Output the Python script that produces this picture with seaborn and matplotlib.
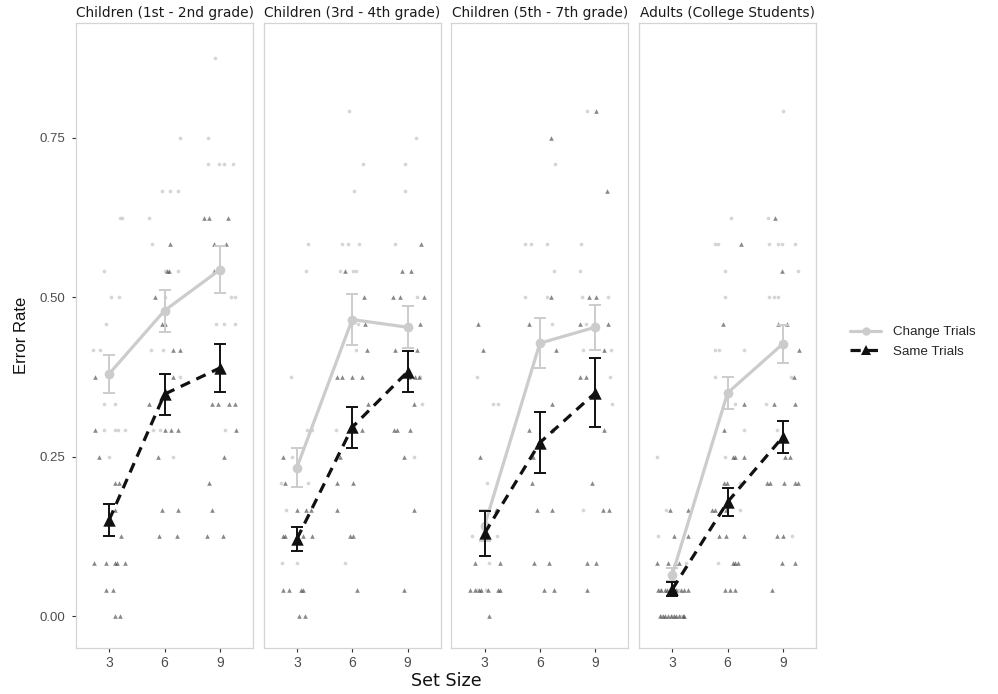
import numpy as np
import pandas as pd
import matplotlib
matplotlib.use("Agg")
import matplotlib.pyplot as plt
from matplotlib.lines import Line2D
import seaborn as sns

# ---------------- data ----------------
PANELS = ["Children (1st - 2nd grade)", "Children (3rd - 4th grade)",
          "Children (5th - 7th grade)", "Adults (College Students)"]
SET_SIZES = [3, 6, 9]
N_TRIALS = 24  # error rates are multiples of 1/24

# individual participants: error counts (of 24) per set size [3, 6, 9], with horizontal jitter (category units)
p1_change_err = [[6, 7, 7, 7, 7, 8, 8, 10, 10, 11, 12, 12, 13, 15, 15],
                 [6, 7, 7, 9, 10, 10, 12, 13, 13, 14, 15, 16, 16, 16, 18],
                 [7, 11, 11, 11, 12, 12, 17, 17, 17, 17, 18, 21]]
p1_change_jit = [[-0.01, -0.10, 0.11, 0.16, 0.29, -0.10, 0.10, -0.30, -0.16, -0.05, 0.04, 0.17, -0.10, 0.19, 0.23],
                 [0.16, -0.20, -0.08, 0.28, -0.24, -0.02, 0.01, 0.00, 0.24, -0.23, -0.28, -0.04, 0.10, 0.24, 0.28],
                 [0.10, -0.07, 0.08, 0.27, 0.20, 0.27, -0.22, -0.02, 0.07, 0.23, -0.22, -0.09]]
p1_same_err = [[0, 0, 1, 1, 2, 2, 2, 2, 2, 3, 4, 5, 5, 6, 7, 9],
               [3, 3, 4, 4, 6, 7, 7, 7, 8, 9, 10, 10, 11, 11, 12, 13, 13, 14],
               [3, 3, 4, 5, 6, 7, 8, 8, 8, 8, 13, 14, 14, 15, 15, 15]]
p1_same_jit = [[0.10, 0.19, -0.06, 0.07, -0.28, -0.06, 0.10, 0.14, 0.28, 0.22, 0.11, 0.10, 0.17, -0.19, -0.25, -0.25],
               [-0.10, 0.22, -0.05, 0.25, -0.11, 0.01, 0.11, 0.25, -0.28, 0.16, 0.15, 0.28, -0.04, 0.01, -0.17, 0.04, 0.08, 0.10],
               [-0.23, 0.05, -0.14, -0.19, 0.08, 0.29, -0.14, -0.04, 0.17, 0.27, -0.11, -0.11, 0.11, -0.28, -0.20, 0.14]]

p2_change_err = [[2, 2, 4, 5, 5, 6, 7, 7, 9, 13, 14],
                 [2, 7, 10, 11, 13, 13, 13, 14, 14, 14, 16, 17, 19],
                 [6, 8, 9, 12, 14, 16, 17, 18]]
p2_change_jit = [[-0.27, 0.01, -0.19, -0.28, 0.20, -0.08, 0.19, 0.27, -0.11, 0.17, 0.20],
                 [-0.13, -0.30, 0.07, 0.11, -0.22, 0.02, 0.06, -0.19, -0.08, 0.12, 0.04, 0.19, -0.06],
                 [0.11, 0.27, 0.22, 0.17, -0.22, -0.04, -0.05, 0.15]]
p2_same_err = [[0, 0, 1, 1, 1, 1, 3, 3, 3, 3, 4, 4, 4, 5, 6],
               [1, 3, 3, 4, 5, 5, 6, 7, 8, 9, 9, 9, 9, 10, 11, 12, 13],
               [1, 4, 6, 7, 7, 7, 8, 9, 9, 9, 10, 10, 11, 12, 12, 12, 13, 13, 14]]
p2_same_jit = [[0.04, 0.14, -0.25, -0.14, 0.07, 0.11, -0.25, -0.22, 0.11, 0.27, 0.00, 0.17, 0.25, -0.22, -0.25],
               [0.08, -0.04, 0.02, -0.27, -0.27, 0.02, -0.22, 0.17, 0.29, -0.28, -0.19, 0.00, 0.17, 0.26, 0.24, 0.22, -0.13],
               [-0.07, 0.11, -0.07, -0.25, -0.19, 0.05, 0.11, 0.02, 0.14, 0.20, -0.22, 0.17, 0.23, -0.27, -0.13, 0.30, -0.10, 0.06, 0.24]]

p3_change_err = [[1, 1, 2, 3, 3, 5, 8, 8, 9],
                 [11, 12, 12, 13, 14, 14, 14, 17],
                 [4, 8, 9, 10, 10, 11, 12, 12, 13, 14, 19]]
p3_change_jit = [[-0.14, 0.03, 0.08, -0.22, 0.22, 0.04, 0.16, 0.25, -0.14],
                 [0.21, -0.27, 0.12, 0.26, -0.27, -0.16, 0.12, 0.27],
                 [-0.22, 0.30, 0.26, -0.22, 0.29, -0.17, -0.23, 0.24, -0.28, -0.25, -0.15]]
p3_same_err = [[0, 1, 1, 1, 1, 1, 1, 1, 2, 2, 4, 6, 10, 11],
               [1, 1, 2, 2, 4, 4, 5, 6, 7, 7, 8, 10, 11, 12, 18],
               [1, 2, 2, 4, 4, 5, 7, 9, 9, 10, 11, 11, 12, 12, 16, 19]]
p3_same_jit = [[0.08, -0.26, -0.18, -0.10, -0.06, 0.06, 0.24, 0.27, -0.18, 0.28, 0.20, -0.09, -0.02, -0.12],
               [0.07, 0.25, -0.11, 0.16, -0.05, 0.21, -0.15, -0.12, -0.20, 0.21, 0.21, 0.30, -0.20, 0.20, 0.20],
               [-0.14, -0.15, 0.01, 0.14, 0.25, -0.06, 0.16, -0.28, -0.17, 0.15, -0.28, 0.24, -0.11, 0.01, 0.22, 0.01]]

p4_change_err = [[0, 0, 0, 1, 1, 2, 3, 4, 6],
                 [2, 4, 5, 6, 7, 8, 9, 10, 10, 10, 12, 13, 14, 14, 15],
                 [3, 7, 8, 9, 12, 12, 12, 13, 14, 14, 14, 14, 15, 19]]
p4_change_jit = [[-0.20, 0.00, 0.16, -0.23, 0.10, 0.25, -0.26, -0.11, -0.27],
                 [-0.17, 0.22, 0.22, -0.04, 0.30, 0.14, -0.22, -0.22, -0.16, 0.30, -0.04, -0.05, -0.22, -0.17, 0.07],
                 [0.16, -0.10, -0.30, 0.15, -0.26, -0.17, -0.08, 0.28, -0.26, -0.08, -0.02, 0.21, -0.27, 0.01]]
p4_same_err = [[0] * 10 + [1] * 9 + [2] * 4 + [3, 3, 4, 4],
               [1, 1, 1, 2, 2, 2, 3, 3, 3, 4, 4, 4, 5, 5, 6, 6, 6, 7, 8, 11, 14],
               [1, 2, 2, 3, 3, 5, 5, 5, 5, 5, 6, 6, 8, 8, 9, 10, 11, 11, 13, 15]]
p4_same_jit = [[-0.23, -0.17, -0.13, -0.08, -0.02, 0.03, 0.07, 0.13, 0.19, 0.22,
                -0.26, -0.20, -0.14, -0.09, -0.02, 0.07, 0.15, 0.22, 0.28,
                -0.27, -0.08, 0.05, 0.12, 0.04, 0.28, -0.04, 0.28],
               [-0.04, 0.04, 0.13, 0.10, 0.14, 0.19, -0.16, -0.02, 0.30, -0.28, -0.22, -0.02, -0.07, -0.01,
                0.10, 0.14, 0.30, -0.07, 0.30, -0.08, 0.25],
               [-0.19, -0.02, 0.22, -0.11, 0.01, -0.28, -0.23, 0.02, 0.22, 0.27, 0.04, 0.13, -0.17, 0.22,
                0.20, 0.29, -0.08, 0.07, -0.02, -0.15]]

# group means and standard errors (set sizes 3, 6, 9)
change_mean = [[0.380, 0.479, 0.543], [0.233, 0.465, 0.453], [0.142, 0.428, 0.453], [0.065, 0.350, 0.427]]
change_se = [[0.030, 0.033, 0.037], [0.030, 0.040, 0.033], [0.025, 0.039, 0.035], [0.010, 0.025, 0.030]]
same_mean = [[0.151, 0.348, 0.389], [0.121, 0.296, 0.383], [0.130, 0.272, 0.350], [0.042, 0.179, 0.281]]
same_se = [[0.025, 0.032, 0.038], [0.019, 0.032, 0.032], [0.035, 0.048, 0.054], [0.011, 0.022, 0.025]]

change_err = [p1_change_err, p2_change_err, p3_change_err, p4_change_err]
change_jit = [p1_change_jit, p2_change_jit, p3_change_jit, p4_change_jit]
same_err = [p1_same_err, p2_same_err, p3_same_err, p4_same_err]
same_jit = [p1_same_jit, p2_same_jit, p3_same_jit, p4_same_jit]

# ---------------- build tables ----------------
rows = []
for pi, panel in enumerate(PANELS):
    for cond, errs, jits in (("Change Trials", change_err[pi], change_jit[pi]),
                             ("Same Trials", same_err[pi], same_jit[pi])):
        for si in range(3):
            for e, j in zip(errs[si], jits[si]):
                rows.append(dict(panel=panel, cond=cond, xpos=si + j, rate=e / N_TRIALS))
points = pd.DataFrame(rows)

srows = []
for pi, panel in enumerate(PANELS):
    for si in range(3):
        srows.append(dict(panel=panel, cond="Change Trials", set_idx=si,
                          mean=change_mean[pi][si], se=change_se[pi][si]))
        srows.append(dict(panel=panel, cond="Same Trials", set_idx=si,
                          mean=same_mean[pi][si], se=same_se[pi][si]))
summary = pd.DataFrame(srows)

# ---------------- style ----------------
sns.set_theme(style="white")
plt.rcParams["font.family"] = ["Liberation Sans", "DejaVu Sans"]

CHANGE_COL = "#CCCCCC"
SAME_COL = "#111111"

fig = plt.figure(figsize=(9.98, 6.94), dpi=100)
W, H = 998.0, 694.0
pan_left0, pan_w, pan_pitch = 76.0, 177.0, 187.7
pan_top, pan_bot = 23.0, 648.0

axes = []
for pi, panel in enumerate(PANELS):
    left = (pan_left0 + pan_pitch * pi) / W
    ax = fig.add_axes([left, (H - pan_bot) / H, pan_w / W, (pan_bot - pan_top) / H])
    axes.append(ax)
    pts = points[points.panel == panel]
    summ = summary[summary.panel == panel]

    # jittered participants
    sns.scatterplot(data=pts[pts.cond == "Change Trials"], x="xpos", y="rate", ax=ax,
                    marker="o", color="#C8C8C8", s=7, linewidth=0, alpha=0.75, legend=False, zorder=2)
    sns.scatterplot(data=pts[pts.cond == "Same Trials"], x="xpos", y="rate", ax=ax,
                    marker="^", color="#3A3A3A", s=11, linewidth=0, alpha=0.6, legend=False, zorder=2)

    # change trials summary
    cs = summ[summ.cond == "Change Trials"]
    sns.lineplot(data=cs, x="set_idx", y="mean", ax=ax, color=CHANGE_COL, linewidth=2.3,
                 marker="o", markersize=7, markeredgewidth=0, legend=False, zorder=4)
    ax.errorbar(cs.set_idx, cs["mean"], yerr=cs.se, fmt="none", ecolor=CHANGE_COL,
                elinewidth=1.4, capsize=4, capthick=1.4, zorder=4)

    # same trials summary
    ss = summ[summ.cond == "Same Trials"]
    sns.lineplot(data=ss, x="set_idx", y="mean", ax=ax, color=SAME_COL, linewidth=2.3,
                 linestyle=(0, (3.2, 2.2)), legend=False, zorder=5)
    ax.errorbar(ss.set_idx, ss["mean"], yerr=ss.se, fmt="none", ecolor=SAME_COL,
                elinewidth=1.4, capsize=4, capthick=1.4, zorder=5)
    sns.scatterplot(data=ss, x="set_idx", y="mean", ax=ax, marker="^", color=SAME_COL,
                    s=80, linewidth=0, legend=False, zorder=6)

    ax.set_xlim(-0.6, 2.6)
    ax.set_ylim(-0.05, 0.93)
    ax.set_xticks([0, 1, 2])
    ax.set_xticklabels([str(s) for s in SET_SIZES])
    ax.set_xlabel("")
    ax.set_ylabel("")
    ax.grid(False)
    for sp in ax.spines.values():
        sp.set_color("#D4D4D4")
        sp.set_linewidth(0.9)
    ax.tick_params(axis="x", length=3, width=0.8, color="#333333", labelcolor="#4D4D4D",
                   labelsize=10, pad=3, bottom=True)
    if pi == 0:
        ax.set_yticks([0, 0.25, 0.5, 0.75])
        ax.set_yticklabels(["0.00", "0.25", "0.50", "0.75"])
        ax.tick_params(axis="y", length=3, width=0.8, color="#333333", labelcolor="#4D4D4D",
                       labelsize=9.5, pad=5, left=True)
    else:
        ax.set_yticks([0, 0.25, 0.5, 0.75])
        ax.tick_params(axis="y", left=False, labelleft=False)

    fig.text((pan_left0 + pan_pitch * pi + pan_w / 2) / W, 1 - 12.5 / H, panel,
             ha="center", va="center", fontsize=9.9, color="#1A1A1A",
             family=["DejaVu Sans"])

fig.text(22 / W, 1 - ((pan_top + pan_bot) / 2) / H, "Error Rate", rotation=90,
         ha="center", va="center", fontsize=12, color="#111111")
fig.text((pan_left0 + (pan_left0 + 3 * pan_pitch + pan_w)) / 2 / W, 1 - 681 / H, "Set Size",
         ha="center", va="center", fontsize=12.6, color="#111111", family=["DejaVu Sans"])

handles = [Line2D([0], [0], color=CHANGE_COL, lw=2.3, marker="o", markersize=6, markeredgewidth=0),
           Line2D([0], [0], color=SAME_COL, lw=2.3, linestyle=(0, (3.2, 2.2)), marker="^",
                  markersize=7, markeredgewidth=0)]
fig.legend(handles, ["Change Trials", "Same Trials"], loc="center left",
           bbox_to_anchor=(845 / W, 1 - 342 / H), frameon=False, fontsize=9.6,
           handlelength=2.3, handletextpad=0.9, labelspacing=0.55, borderaxespad=0)

fig.savefig("out.png", dpi=100)
